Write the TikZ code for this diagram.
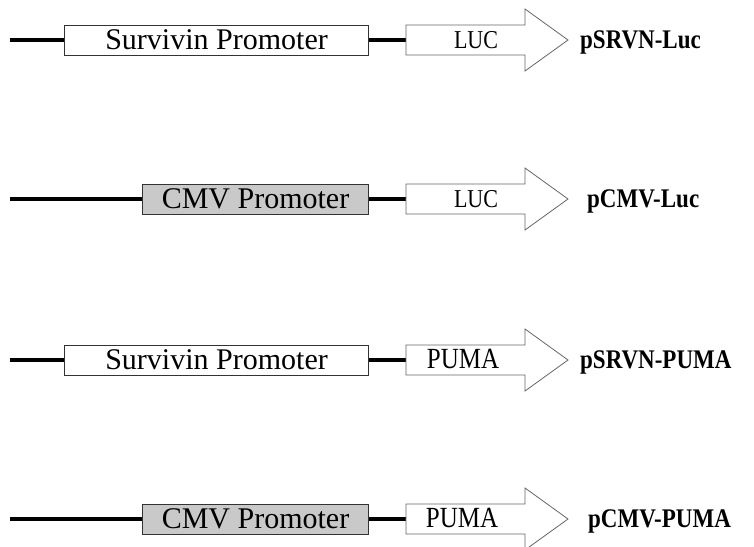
\documentclass[tikz,border=0pt]{standalone}
\usepackage{graphicx}
\usepackage{fontspec}
\setmainfont{Liberation Serif}

% slightly tall lettering for gene and plasmid names
\newcommand\tall[1]{\scalebox{1}[1.17]{#1}}
\newcommand\biggene{\fontsize{25}{25}\selectfont}

\tikzset{
  dna/.style={line width=#1, black},
  promoter/.style={draw=black!80, line width=0.9pt, minimum height=30pt,
    inner sep=0pt, font=\fontsize{30}{30}\selectfont,
    text height=19.8pt, text depth=0pt},
  survivin/.style={promoter, fill=white, minimum width=304pt},
  cmv/.style={promoter, fill=black!21, minimum width=226pt},
  genearrow/.style={draw=black!60, fill=white, line width=0.8pt, line join=miter},
  gene/.style={inner sep=0pt, anchor=base, yshift=-8.5pt,
    font=\fontsize{22}{22}\selectfont},
  plasmid/.style={inner sep=0pt, anchor=base west, yshift=-8.5pt,
    font=\bfseries\fontsize{23}{23}\selectfont},
}

% #1 name, #2 row y, #3 promoter style, #4 promoter text,
% #5 gene, #6 gene x, #7 plasmid name, #8 plasmid x, #9 backbone width
\newcommand\construct[9]{%
  \coordinate (#1-start) at (10,#2);
  \coordinate (#1-tail) at (406,#2);
  \node[#3, anchor=east] (#1-prom) at (369,#2) {#4};
  \draw[dna=#9] (#1-start) -- (#1-prom.west);
  \draw[dna=#9] (#1-prom.east) -- (#1-tail);
  \draw[genearrow] (#1-tail) ++(0,15) -- ++(119,0) -- ++(0,16) -- ++(43,-31)
    -- ++(-43,-31) -- ++(0,16) -- ++(-119,0) -- cycle;
  \node[gene] (#1-gene) at (#6,#2) {\tall{#5}};
  \node[plasmid] (#1-name) at (#8,#2) {\tall{#7}};
}

\begin{document}
\begin{tikzpicture}[x=1pt, y=-1pt]
  \useasboundingbox (0,0) rectangle (754,546);
  \construct{a}{40}{survivin}{Survivin Promoter}{LUC}{476}{pSRVN-Luc}{580}{4.5pt}
  \construct{b}{199}{cmv}{CMV Promoter}{LUC}{476}{pCMV-Luc}{587}{3.6pt}
  \construct{c}{360}{survivin}{Survivin Promoter}{\biggene PUMA}{463}{pSRVN-PUMA}{580}{4.5pt}
  \construct{d}{519}{cmv}{CMV Promoter}{\biggene PUMA}{462}{pCMV-PUMA}{588}{3.6pt}
\end{tikzpicture}
\end{document}
